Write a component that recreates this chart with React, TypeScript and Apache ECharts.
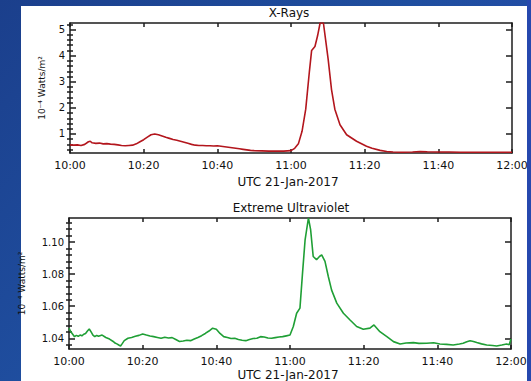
import React, { useEffect, useRef } from "react";
import * as echarts from "echarts";

// Time axis: minutes after 10:00 UTC, 21-Jan-2017
const xTickMinutes = [0, 20, 40, 60, 80, 100, 120];

// X-Rays (10^-4 Watts/m^2)
const xrayTimes = [
  0, 1, 2, 3, 4, 5, 5.5, 6, 7, 8, 9, 10, 11, 12, 13, 14, 15, 16, 17, 18, 19, 20,
  21, 22, 23, 24, 25, 26, 27, 28, 29, 30, 31, 32, 33, 34, 35, 36, 37, 38, 39, 40,
  41, 42, 43, 44, 45, 46, 47, 48, 49, 50, 52, 54, 56, 58, 60, 61, 62, 63, 64, 65,
  65.6, 66.5, 67.2, 67.9, 68.8, 69.4, 70.1, 71, 71.9, 73.3, 75.1, 77.8, 80.5, 82,
  84.2, 86, 87.7, 90, 93, 95, 97, 100, 103, 106, 110, 114, 117, 120,
];
const xrayValues = [
  0.58, 0.57, 0.58, 0.56, 0.6, 0.7, 0.72, 0.66, 0.64, 0.65, 0.62, 0.63, 0.61, 0.6,
  0.58, 0.56, 0.55, 0.56, 0.57, 0.62, 0.7, 0.78, 0.88, 0.97, 1.0, 0.97, 0.92, 0.87,
  0.83, 0.79, 0.76, 0.72, 0.68, 0.64, 0.6, 0.57, 0.56, 0.56, 0.55, 0.55, 0.54, 0.55,
  0.53, 0.51, 0.49, 0.47, 0.45, 0.43, 0.41, 0.39, 0.37, 0.36, 0.35, 0.34, 0.34,
  0.34, 0.36, 0.45, 0.62, 1.1, 1.95, 3.4, 4.2, 4.35, 4.75, 5.25, 5.25, 4.6, 3.85,
  2.7, 1.95, 1.35, 0.97, 0.72, 0.53, 0.45, 0.37, 0.33, 0.31, 0.3, 0.31, 0.33, 0.32,
  0.31, 0.31, 0.3, 0.3, 0.3, 0.3, 0.3,
];

// Extreme Ultraviolet (10^-4 Watts/m^2)
const euvTimes = [
  0, 0.5, 1, 1.5, 2, 2.5, 3, 3.5, 4, 4.5, 5, 5.5, 6, 6.5, 7, 7.5, 8, 9, 10, 11, 12,
  12.5, 13, 13.5, 14, 14.5, 15, 16, 17, 18, 19, 20, 21, 22, 23, 24, 25, 26, 27, 28,
  29, 30, 31, 32, 33, 34, 35, 36, 37, 38, 39, 40, 41, 42, 43, 44, 45, 46, 47, 48, 49,
  50, 51, 52, 53, 54, 55, 56, 57, 58, 59, 60, 60.9, 61.8, 62.7, 63.4, 64.1, 65,
  65.6, 66.3, 67.2, 68, 68.6, 69.5, 70.4, 71.3, 72.7, 74.5, 76.3, 78.1, 79.9, 81.7,
  82.8, 84.4, 86.3, 88.1, 89.9, 91.5, 93.5, 95, 97.1, 99, 100.7, 102.5, 104.3, 106,
  107, 108, 108.9, 109.8, 110.7, 112, 113.4, 115, 116.1, 117.5, 118.8, 119.5, 120,
];
const euvValues = [
  1.0463, 1.044, 1.0425, 1.041, 1.0418, 1.0412, 1.042, 1.0415, 1.0425, 1.043,
  1.0445, 1.0458, 1.044, 1.042, 1.041, 1.0418, 1.0412, 1.042, 1.0405, 1.0395, 1.038,
  1.037, 1.0365, 1.0358, 1.0352, 1.0368, 1.0385, 1.04, 1.0405, 1.0412, 1.0418,
  1.0427, 1.042, 1.0414, 1.041, 1.0405, 1.04, 1.0406, 1.0402, 1.0404, 1.0392, 1.038,
  1.0383, 1.0388, 1.0385, 1.0395, 1.0405, 1.0416, 1.043, 1.0445, 1.0463, 1.0456,
  1.043, 1.041, 1.0405, 1.0398, 1.04, 1.0392, 1.0388, 1.0385, 1.0392, 1.0398, 1.04,
  1.041, 1.0408, 1.0402, 1.04, 1.0404, 1.0408, 1.041, 1.0415, 1.042, 1.0473, 1.0556,
  1.0588, 1.0806, 1.1014, 1.115, 1.1077, 1.091, 1.089, 1.091, 1.092, 1.0879, 1.0785,
  1.07, 1.0619, 1.0556, 1.0514, 1.0473, 1.0456, 1.0463, 1.0483, 1.0441, 1.041,
  1.0379, 1.0364, 1.037, 1.0373, 1.0368, 1.0369, 1.0372, 1.0364, 1.0362, 1.0358,
  1.0364, 1.0369, 1.0378, 1.0385, 1.038, 1.0373, 1.0365, 1.0358, 1.0355, 1.0352,
  1.0358, 1.0364, 1.036, 1.0395,
];

const xrayMajorTicks = [1, 2, 3, 4, 5];
const xrayMinorTicks = [
  0.4, 0.6, 0.8, 1.2, 1.4, 1.6, 1.8, 2.2, 2.4, 2.6, 2.8, 3.2, 3.4, 3.6, 3.8, 4.2, 4.4,
  4.6, 4.8, 5.2,
];
const euvMajorTicks = [1.04, 1.06, 1.08, 1.1];
const euvMinorTicks = [
  1.036, 1.044, 1.048, 1.052, 1.056, 1.064, 1.068, 1.072, 1.076, 1.084, 1.088, 1.092,
  1.096, 1.104, 1.108, 1.112,
];

const AXIS = "#1c1c1c";
const FONT = "DejaVu Sans";

const timeLabel = (v: number) => {
  const h = 10 + Math.floor(v / 60);
  const m = Math.round(v % 60);
  return `${h}:${m < 10 ? "0" : ""}${m}`;
};

function xAxes(gridIndex: number) {
  const base = {
    type: "value",
    gridIndex,
    min: xTickMinutes[0],
    max: xTickMinutes[xTickMinutes.length - 1],
    interval: 20,
    splitLine: { show: false },
    axisLine: { show: true, onZero: false, lineStyle: { color: AXIS, width: 1.5 } },
    axisTick: { show: true, inside: true, length: 4, lineStyle: { color: AXIS, width: 1.5 } },
  };
  return [
    {
      ...base,
      position: "bottom",
      axisLabel: {
        formatter: timeLabel,
        fontSize: 11,
        fontFamily: FONT,
        color: "#111",
        margin: 7,
      },
    },
    { ...base, position: "top", axisLabel: { show: false } },
  ];
}

function yAxes(
  gridIndex: number,
  min: number,
  max: number,
  major: number[],
  minor: number[],
  fmt: (v: number) => string,
  nameGap: number
) {
  const base = {
    type: "value",
    gridIndex,
    min,
    max,
    splitLine: { show: false },
  };
  const majorTick = { show: true, inside: true, length: 6, customValues: major, lineStyle: { color: AXIS, width: 1.5 } };
  const minorTick = { show: true, inside: true, length: 3, customValues: minor, lineStyle: { color: AXIS, width: 1.5 } };
  return [
    {
      ...base,
      position: "left",
      axisLine: { show: true, onZero: false, lineStyle: { color: AXIS, width: 1.5 } },
      axisTick: majorTick,
      axisLabel: { customValues: major, formatter: fmt, fontSize: 10, fontFamily: FONT, color: "#111", margin: 5 },
      name: "10⁻⁴ Watts/m²",
      nameLocation: "middle",
      nameGap,
      nameTextStyle: { fontSize: 9, fontFamily: FONT, color: "#111" },
    },
    { ...base, position: "left", axisLine: { show: false }, axisTick: minorTick, axisLabel: { show: false } },
    {
      ...base,
      position: "right",
      axisLine: { show: true, onZero: false, lineStyle: { color: AXIS, width: 1.5 } },
      axisTick: majorTick,
      axisLabel: { show: false },
    },
    { ...base, position: "right", axisLine: { show: false }, axisTick: minorTick, axisLabel: { show: false } },
  ];
}

export default function App() {
  const ref = useRef<HTMLDivElement>(null);

  useEffect(() => {
    if (!ref.current) return;
    const chart = echarts.init(ref.current, undefined, { renderer: "svg" });
    const xray = xrayTimes.map((t, i) => [t, xrayValues[i]]);
    const euv = euvTimes.map((t, i) => [t, euvValues[i]]);
    const textStyle = (text: string, x: number, y: number, size: number) => ({
      type: "text",
      x,
      y,
      style: {
        text,
        fill: "#111",
        font: `${size}px "${FONT}"`,
        textAlign: "center",
        textVerticalAlign: "middle",
      },
    });
    chart.setOption({
      animation: false,
      backgroundColor: "transparent",
      grid: [
        { left: 70, right: 19, top: 23, height: 130 },
        { left: 69, right: 20, top: 218, height: 131 },
      ],
      xAxis: [...xAxes(0), ...xAxes(1)],
      yAxis: [
        ...yAxes(0, 0.27, 5.25, xrayMajorTicks, xrayMinorTicks, (v: number) => String(v), 24),
        ...yAxes(1, 1.0333, 1.115, euvMajorTicks, euvMinorTicks, (v: number) => v.toFixed(2), 43),
      ],
      series: [
        {
          type: "line",
          xAxisIndex: 0,
          yAxisIndex: 0,
          data: xray,
          showSymbol: false,
          lineStyle: { color: "#b3161d", width: 1.6 },
          itemStyle: { color: "#b3161d" },
        },
        {
          type: "line",
          xAxisIndex: 2,
          yAxisIndex: 4,
          data: euv,
          showSymbol: false,
          lineStyle: { color: "#1f9f35", width: 1.6 },
          itemStyle: { color: "#1f9f35" },
        },
      ],
      graphic: [
        textStyle("X-Rays", 289, 13, 12),
        textStyle("UTC 21-Jan-2017", 288, 182, 12),
        textStyle("Extreme Ultraviolet", 291, 208, 12),
        textStyle("UTC 21-Jan-2017", 288, 375, 12),
      ],
    });
    return () => chart.dispose();
  }, []);

  return (
    <div
      style={{
        position: "fixed",
        left: 0,
        top: 0,
        width: 531,
        height: 381,
        overflow: "hidden",
        background: "linear-gradient(135deg, #1b3f8c 0%, #1f4e9f 45%, #2a4cb6 100%)",
      }}
    >
      <div style={{ position: "absolute", left: 21, top: 6, width: 506, height: 375, background: "#ffffff" }} />
      <div ref={ref} style={{ position: "absolute", left: 0, top: 0, width: 531, height: 381 }} />
      <div
        style={{
          position: "absolute",
          left: 527,
          top: 0,
          width: 4,
          height: 381,
          background: "#2648ae",
          pointerEvents: "none",
        }}
      />
    </div>
  );
}
